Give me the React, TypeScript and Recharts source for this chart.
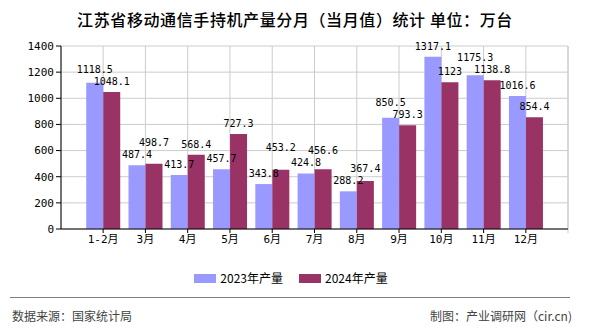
import { BarChart, Bar, XAxis, YAxis, CartesianGrid, LabelList, usePlotArea } from 'recharts'

const months = ['1-2月', '3月', '4月', '5月', '6月', '7月', '8月', '9月', '10月', '11月', '12月']
const output2023 = [1118.5, 487.4, 413.7, 457.7, 343.8, 424.8, 288.2, 850.5, 1317.1, 1175.3, 1016.6]
const output2024 = [1048.1, 498.7, 568.4, 727.3, 453.2, 456.6, 367.4, 793.3, 1123, 1138.8, 854.4]
const yTicks = [0, 200, 400, 600, 800, 1000, 1200, 1400]
const seriesNames = ['2023年产量', '2024年产量']

const data = months.map((m, i) => ({ month: m, y2023: output2023[i], y2024: output2024[i] }))

const C2023 = '#9999ff'
const C2024 = '#993366'
const MONO = "'DejaVu Sans Mono', 'Noto Sans CJK SC', monospace"
const CJK = "'Noto Sans CJK SC', sans-serif"

// grid line on the right edge of the plot
function RightBorder() {
  const area = usePlotArea()
  if (!area) return null
  const x = area.x + area.width
  return <line x1={x} x2={x} y1={area.y} y2={area.y + area.height + 4} stroke="#cccccc" />
}

// label baselines: above the bar, nudged so neighbouring labels don't collide
function labelBaselines(top: (v: number) => number) {
  const b23: number[] = []
  const b24: number[] = []
  months.forEach((_, i) => {
    const t1 = top(output2023[i])
    const t2 = top(output2024[i])
    let l1 = t1 - 7
    let l2 = t2 - 7
    if (Math.abs(t1 - t2) < 12) {
      if (t1 < t2) l1 = t2 - 19
      else l2 = t1 - 19
    }
    b23.push(l1)
    b24.push(l2)
  })
  for (let i = 0; i < months.length - 1; i++) {
    if (Math.abs(b24[i] - b23[i + 1]) < 11) {
      const lifted = Math.min(b24[i], b23[i + 1]) - 12
      b24[i] = Math.abs(lifted - b23[i]) >= 11 ? lifted : top(output2024[i]) + 13
    }
  }
  return [b23, b24]
}

function makeLabel(series: number) {
  const own = series === 0 ? output2023 : output2024
  return function ValueLabel(props: any) {
    const { x, y, width, height, value, index } = props
    const perUnit = height / own[index]
    const base = y + height
    const lines = labelBaselines(v => base - v * perUnit)
    return (
      <text x={x + width / 2} y={lines[series][index]} textAnchor="middle" fontFamily={MONO} fontSize={10} fill="#000">
        {value}
      </text>
    )
  }
}

const Label2023 = makeLabel(0)
const Label2024 = makeLabel(1)

export default function App() {
  return (
    <div style={{ position: 'absolute', left: 0, top: 0, width: 590, height: 330, background: '#fff', fontFamily: CJK }}>
      <div style={{ position: 'absolute', left: 0, top: 8, width: 590, textAlign: 'center', fontSize: 16, lineHeight: '22px', letterSpacing: 0.6, color: '#000', fontWeight: 500 }}>
        江苏省移动通信手持机产量分月（当月值）统计 单位：万台
      </div>
      <div style={{ position: 'absolute', left: 0, top: 0 }}>
        <BarChart
          width={590}
          height={252}
          data={data}
          margin={{ top: 46, right: 22, bottom: 0, left: 0 }}
          barCategoryGap="10%"
          barGap={0}
        >
          <CartesianGrid stroke="#cccccc" />
          <XAxis
            dataKey="month"
            padding={{ left: 21, right: 21 }}
            height={23}
            stroke="#000"
            tickLine={{ stroke: '#000' }}
            tickSize={4}
            tick={{ fill: '#000', fontSize: 11, fontFamily: MONO }}
            interval={0}
          />
          <YAxis
            width={61}
            domain={[0, 1400]}
            ticks={yTicks}
            stroke="#000"
            tickSize={5}
            tick={{ fill: '#000', fontSize: 11, fontFamily: MONO }}
          />
          <RightBorder />
          <Bar dataKey="y2023" name={seriesNames[0]} fill={C2023} isAnimationActive={false}>
            <LabelList dataKey="y2023" content={Label2023} />
          </Bar>
          <Bar dataKey="y2024" name={seriesNames[1]} fill={C2024} isAnimationActive={false}>
            <LabelList dataKey="y2024" content={Label2024} />
          </Bar>
        </BarChart>
      </div>
      <div style={{ position: 'absolute', top: 270, left: 0, width: 582, display: 'flex', justifyContent: 'center', fontSize: 12, lineHeight: '16px', color: '#000' }}>
        {[C2023, C2024].map((c, i) => (
          <div key={i} style={{ display: 'flex', alignItems: 'center', marginLeft: i ? 16 : 0 }}>
            <span style={{ display: 'inline-block', width: 22, height: 9, background: c, marginRight: 4 }} />
            <span>{seriesNames[i]}</span>
          </div>
        ))}
      </div>
      <div style={{ position: 'absolute', left: 10, top: 297, width: 560, height: 1, background: '#808080' }} />
      <div style={{ position: 'absolute', left: 12, top: 307, fontSize: 12, lineHeight: '18px', color: '#444' }}>数据来源：国家统计局</div>
      <div style={{ position: 'absolute', right: 18, top: 307, fontSize: 12, lineHeight: '18px', color: '#444' }}>制图：产业调研网（cir.cn)</div>
    </div>
  )
}
